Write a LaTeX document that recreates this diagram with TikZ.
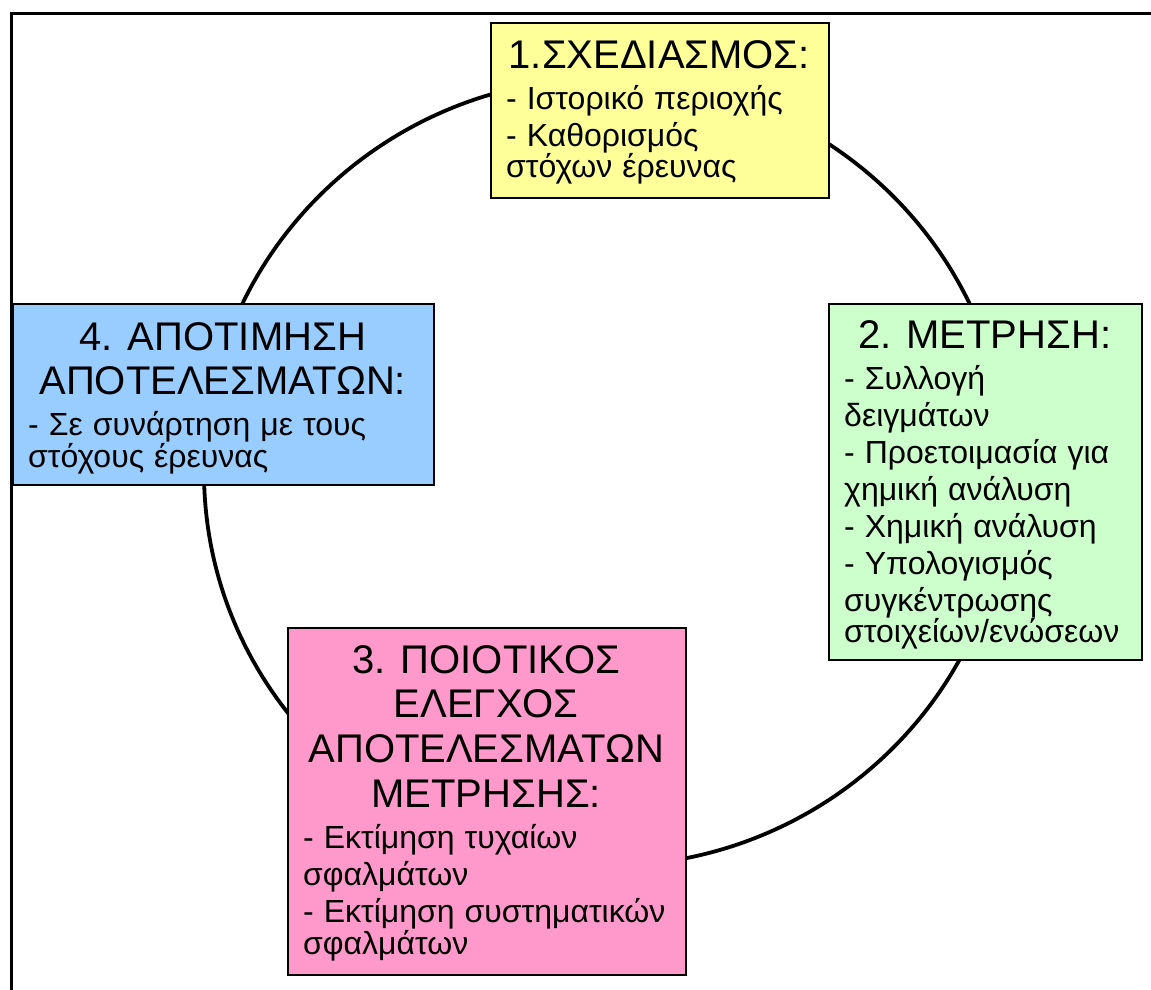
\documentclass[tikz,border=0pt]{standalone}
\usepackage{fontspec}
\setmainfont{Liberation Sans}
\definecolor{yelfill}{HTML}{FFFF99}
\definecolor{grnfill}{HTML}{CCFFCC}
\definecolor{blufill}{HTML}{99CCFF}
\definecolor{pnkfill}{HTML}{FF99CC}
\tikzset{
  frameline/.style={line width=2.5pt, black},
  cycleline/.style={line width=3.8pt, black},
  stagebox/.style={draw=black, line width=2pt, anchor=north west, inner sep=0pt},
  stagetext/.style={inner sep=0pt, anchor=base west, align=left},
}
\newcommand\stitle[1]{{\centering\fontsize{40}{44.8}\selectfont\spaceskip=15pt\xspaceskip=15pt\relax #1\par}\vspace{4pt}}
\newcommand\sbody{\fontsize{32}{37}\selectfont\spaceskip=10pt\xspaceskip=10pt\relax}
\begin{document}
\begin{tikzpicture}[x=1pt, y=-1pt]
\useasboundingbox (0,0) rectangle (1151,990);
% frame
\coordinate (fa) at (11.5,1010);
\coordinate (fb) at (1175,13.5);
\draw[frameline] (fa) |- (fb);
% cycle
\coordinate (cc) at (606,472);
\draw[cycleline] (cc) ellipse [x radius=402pt, y radius=394pt];
% boxes
\node[stagebox, fill=yelfill, minimum width=338pt, minimum height=175pt] (b1) at (490,22) {};
\node[stagebox, fill=grnfill, minimum width=313pt, minimum height=356pt] (b2) at (828,303) {};
\node[stagebox, fill=pnkfill, minimum width=398pt, minimum height=347pt] (b3) at (287,627) {};
\node[stagebox, fill=blufill, minimum width=421pt, minimum height=181pt] (b4) at (12,303) {};
% texts
\node[stagetext, text width=306pt] (t1) at (506,68) {\stitle{1.ΣΧΕΔΙΑΣΜΟΣ:}\sbody
\mbox{- Ιστορικό περιοχής}\\
\mbox{- Καθορισμός}\\
\mbox{στόχων έρευνας}};
\node[stagetext, text width=281pt] (t2) at (844,348) {\stitle{2. ΜΕΤΡΗΣΗ:}\sbody
\mbox{- Συλλογή}\\
\mbox{δειγμάτων}\\
\mbox{- Προετοιμασία για}\\
\mbox{χημική ανάλυση}\\
\mbox{- Χημική ανάλυση}\\
\mbox{- Υπολογισμός}\\
\mbox{συγκέντρωσης}\\
\mbox{στοιχείων/ενώσεων}};
\node[stagetext, text width=366pt] (t3) at (303,673) {\stitle{3. ΠΟΙΟΤΙΚΟΣ\\ ΕΛΕΓΧΟΣ\\ ΑΠΟΤΕΛΕΣΜΑΤΩΝ\\ ΜΕΤΡΗΣΗΣ:}\sbody
\mbox{- Εκτίμηση τυχαίων}\\
\mbox{σφαλμάτων}\\
\mbox{- Εκτίμηση συστηματικών}\\
\mbox{σφαλμάτων}};
\node[stagetext, text width=389pt] (t4) at (28,350) {\stitle{4. ΑΠΟΤΙΜΗΣΗ\\ ΑΠΟΤΕΛΕΣΜΑΤΩΝ:}\sbody
\mbox{- Σε συνάρτηση με τους}\\
\mbox{στόχους έρευνας}};
\end{tikzpicture}
\end{document}
